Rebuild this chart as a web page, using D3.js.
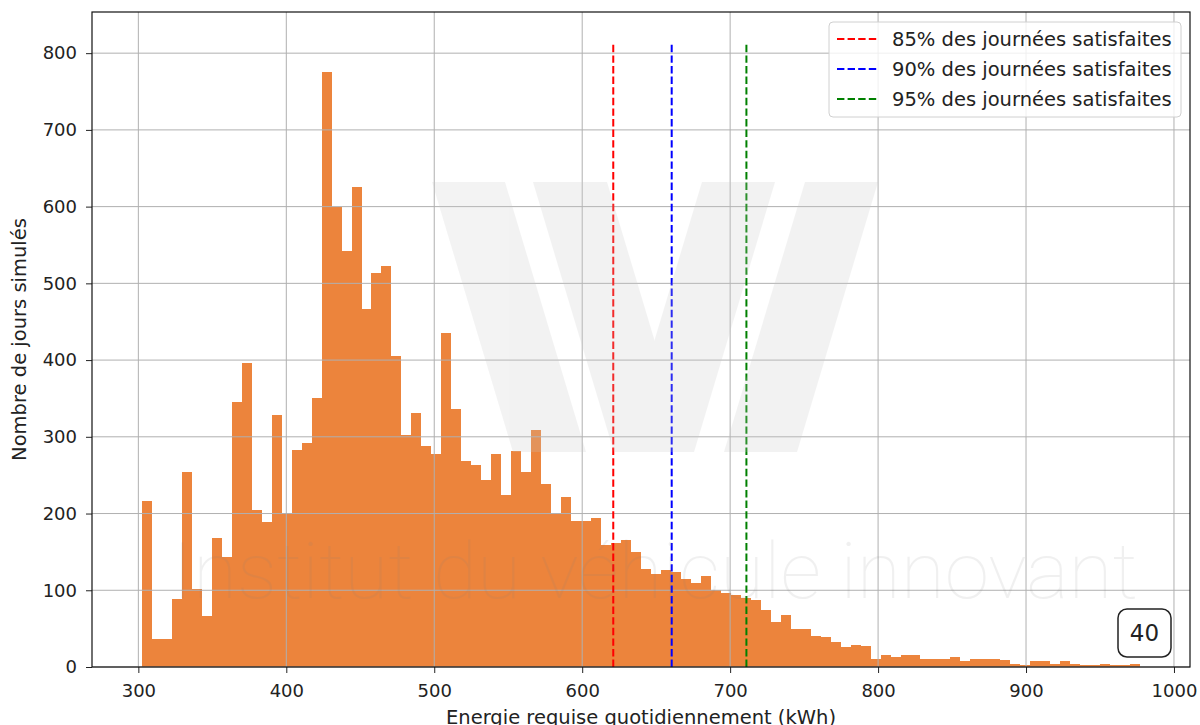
<!DOCTYPE html>
<html>
<head>
<meta charset="utf-8">
<script src="https://cdn.jsdelivr.net/npm/d3@7"></script>
<style>
  body { margin: 0; background: #fff; }
  text { font-family: "DejaVu Sans", sans-serif; }
</style>
</head>
<body>
<div id="chart"></div>
<script>
// histogram counts (100 bins)
var binStart = 302.4;
var binWidth = 6.747;
var counts = [
  216, 36, 36, 89, 254, 102, 67, 168, 143, 346,
  396, 204, 189, 329, 200, 283, 292, 351, 775, 600,
  542, 625, 466, 514, 523, 405, 303, 331, 288, 278,
  435, 336, 269, 263, 244, 278, 224, 281, 254, 309,
  239, 200, 222, 190, 190, 194, 159, 161, 166, 150,
  128, 121, 127, 124, 115, 109, 118, 100, 97, 94,
  90, 87, 74, 59, 68, 50, 50, 41, 39, 33,
  26, 29, 28, 11, 15, 13, 15, 15, 11, 11,
  10, 13, 8, 10, 11, 10, 9, 4, 2, 8,
  8, 4, 8, 4, 2, 2, 4, 2, 2, 4
];

// percentile lines
var seuils = [621, 660.5, 711];
var seuilLabels = ["85% des journées satisfaites", "90% des journées satisfaites", "95% des journées satisfaites"];
var seuilColors = ["red", "blue", "green"];
var seuilTop = 813;

var xTicks = [300, 400, 500, 600, 700, 800, 900, 1000];
var yTicks = [0, 100, 200, 300, 400, 500, 600, 700, 800];

var W = 1200, H = 725;
var margin = {top: 12, right: 10, bottom: 58, left: 92};
var width = W - margin.left - margin.right,
    height = H - margin.top - margin.bottom;

var svg = d3.select("#chart").append("svg")
    .attr("width", W)
    .attr("height", H);

var g = svg.append("g")
    .attr("transform", "translate(" + margin.left + "," + margin.top + ")");

var binEnd = binStart + counts.length * binWidth;
var pad = (binEnd - binStart) * 0.05;
var x = d3.scaleLinear()
    .domain([binStart - pad, binEnd + pad])
    .range([0, width]);
var y = d3.scaleLinear()
    .domain([0, seuilTop * 1.05])
    .range([height, 0]);

// bars
g.append("g")
  .selectAll("rect")
  .data(counts)
  .enter()
  .append("rect")
    .attr("x", function(d, i) { return x(binStart + i * binWidth); })
    .attr("width", function(d, i) { return x(binStart + (i + 1) * binWidth) - x(binStart + i * binWidth); })
    .attr("y", function(d) { return y(d); })
    .attr("height", function(d) { return height - y(d); })
    .attr("shape-rendering", "crispEdges")
    .style("fill", "#ec843c");

// grid
g.append("g")
  .selectAll("line")
  .data(xTicks)
  .enter().append("line")
    .attr("x1", function(d) { return x(d); })
    .attr("x2", function(d) { return x(d); })
    .attr("y1", 0).attr("y2", height)
    .attr("stroke", "#b0b0b0").attr("stroke-width", 1);
g.append("g")
  .selectAll("line")
  .data(yTicks)
  .enter().append("line")
    .attr("y1", function(d) { return y(d); })
    .attr("y2", function(d) { return y(d); })
    .attr("x1", 0).attr("x2", width)
    .attr("stroke", "#b0b0b0").attr("stroke-width", 1);

// watermark W
var wm = svg.append("g").style("opacity", 0.22);
var strokes = [
  [[432,182],[505,182],[586,452],[513,452]],
  [[533,182],[607,182],[688,452],[614,452]],
  [[702,182],[775,182],[694,452],[621,452]],
  [[805,182],[878,182],[797,452],[724,452]]
];
wm.selectAll("path")
  .data(strokes)
  .enter().append("path")
    .attr("d", function(p) { return "M" + p.join("L") + "Z"; })
    .style("fill", "#c8c8c8");

svg.append("text")
  .attr("x", 172)
  .attr("y", 598)
  .attr("textLength", 966)
  .attr("lengthAdjust", "spacingAndGlyphs")
  .style("font-family", "Roboto, Lato, sans-serif")
  .style("font-weight", 100)
  .style("font-size", "78px")
  .style("fill", "#808080")
  .style("opacity", 0.11)
  .text("Institut du véhicule innovant");

// percentile lines
g.append("g")
  .selectAll("line")
  .data(seuils)
  .enter().append("line")
    .attr("x1", function(d) { return x(d); })
    .attr("x2", function(d) { return x(d); })
    .attr("y1", y(0))
    .attr("y2", y(seuilTop))
    .attr("stroke", function(d, i) { return seuilColors[i]; })
    .attr("stroke-width", 2)
    .attr("stroke-dasharray", "7.4,3.2");

// axes
var xAxis = g.append("g")
  .attr("transform", "translate(0," + height + ")")
  .call(d3.axisBottom(x).tickValues(xTicks).tickFormat(d3.format("d")).tickSize(6).tickPadding(11));
var yAxis = g.append("g")
  .call(d3.axisLeft(y).tickValues(yTicks).tickSize(6).tickPadding(9));
[xAxis, yAxis].forEach(function(a) {
  a.select(".domain").remove();
  a.selectAll("line").attr("stroke", "#222").attr("stroke-width", 1);
  a.selectAll("text").style("font-size", "18px").style("fill", "#222")
    .style("font-family", "DejaVu Sans, sans-serif");
});

// frame
g.append("rect")
  .attr("width", width).attr("height", height)
  .attr("fill", "none").attr("stroke", "#111").attr("stroke-width", 1.2);

// axis labels
svg.append("text")
  .attr("x", margin.left + width / 2)
  .attr("y", 724)
  .attr("text-anchor", "middle")
  .style("font-size", "19.5px").style("fill", "#222")
  .text("Energie requise quotidiennement (kWh)");
svg.append("text")
  .attr("transform", "translate(26," + (margin.top + height / 2) + ") rotate(-90)")
  .attr("text-anchor", "middle")
  .style("font-size", "19.5px").style("fill", "#222")
  .text("Nombre de jours simulés");

// legend
var legend = svg.append("g").attr("transform", "translate(829,22)");
legend.append("rect")
  .attr("width", 352).attr("height", 95)
  .attr("rx", 4)
  .attr("fill", "white").attr("fill-opacity", 0.8)
  .attr("stroke", "#d0d0d0");
var rows = legend.selectAll(".row")
  .data(seuilLabels)
  .enter().append("g")
    .attr("class", "row")
    .attr("transform", function(d, i) { return "translate(0," + (17 + i * 30) + ")"; });
rows.append("line")
  .attr("x1", 8).attr("x2", 48)
  .attr("stroke", function(d, i) { return seuilColors[i]; })
  .attr("stroke-width", 2)
  .attr("stroke-dasharray", "7.4,3.2");
rows.append("text")
  .attr("x", 63).attr("dy", "0.35em")
  .style("font-size", "19.5px").style("fill", "#222")
  .text(function(d) { return d; });

// sample size box
svg.append("rect")
  .attr("x", 1118).attr("y", 609)
  .attr("width", 53).attr("height", 48)
  .attr("rx", 9)
  .attr("fill", "white")
  .attr("stroke", "#222").attr("stroke-width", 1.5);
svg.append("text")
  .attr("x", 1144.5).attr("y", 633)
  .attr("dy", "0.35em")
  .attr("text-anchor", "middle")
  .style("font-size", "23px").style("fill", "#222")
  .text("40");
</script>
</body>
</html>
